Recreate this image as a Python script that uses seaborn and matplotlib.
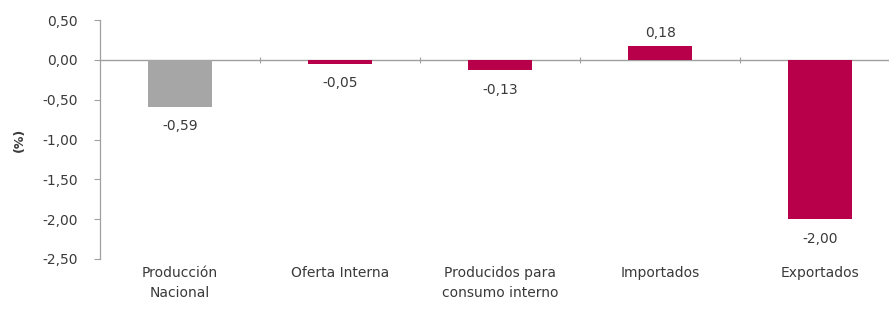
import matplotlib
matplotlib.use("Agg")
import matplotlib.pyplot as plt
import seaborn as sns
import pandas as pd

categories = ["Producción\nNacional", "Oferta Interna", "Producidos para\nconsumo interno", "Importados", "Exportados"]
values = [-0.59, -0.05, -0.13, 0.18, -2.00]
colors = ["#A6A6A6", "#B8004A", "#B8004A", "#B8004A", "#B8004A"]
yticks = [0.5, 0.0, -0.5, -1.0, -1.5, -2.0, -2.5]

sns.set_theme(style="white")
plt.rcParams["font.family"] = ["DejaVu Sans"]

FS = 10
TXT = "#3A3A3A"

df = pd.DataFrame({"cat": categories, "val": values})

fig = plt.figure(figsize=(8.89, 3.09), dpi=100)
ax = fig.add_axes([0.1125, 0.162, 0.8875, 0.773])

sns.barplot(data=df, x="cat", y="val", hue="cat", palette=colors, legend=False,
            width=0.4, ax=ax, saturation=1, linewidth=0)

ax.set_ylim(-2.5, 0.5)
ax.set_xlim(-0.5, 4.43)
ax.set_yticks(yticks)
ax.set_yticklabels([f"{t:.2f}".replace(".", ",") for t in yticks], fontsize=FS, color=TXT)
ax.tick_params(axis="y", length=4, width=0.8, color="#A0A0A0", pad=12, left=True)
ax.tick_params(axis="x", length=0, pad=5, labelsize=FS, labelcolor=TXT)
for lbl in ax.get_xticklabels():
    lbl.set_linespacing(1.55)
ax.set_xlabel("")
ax.set_ylabel("(%)", fontsize=9, fontweight="bold", color=TXT, labelpad=12)

for s in ["top", "right", "bottom"]:
    ax.spines[s].set_visible(False)
ax.spines["left"].set_color("#A0A0A0")
ax.spines["left"].set_linewidth(0.9)

sec = ax.secondary_xaxis(0, transform=ax.transData)
sec.set_xticks([0.5, 1.5, 2.5, 3.5])
sec.set_xticklabels([])
sec.tick_params(axis="x", direction="inout", length=5, width=0.8, color="#A0A0A0")
sec.spines["bottom"].set_color("#A0A0A0")
sec.spines["bottom"].set_linewidth(1.0)

for cont in ax.containers:
    v = cont.datavalues[0]
    ax.bar_label(cont, labels=[f"{x:.2f}".replace(".", ",") for x in cont.datavalues],
                 padding=4 if v > 0 else 9, fontsize=FS, color=TXT)

fig.savefig("out.png", dpi=100)
